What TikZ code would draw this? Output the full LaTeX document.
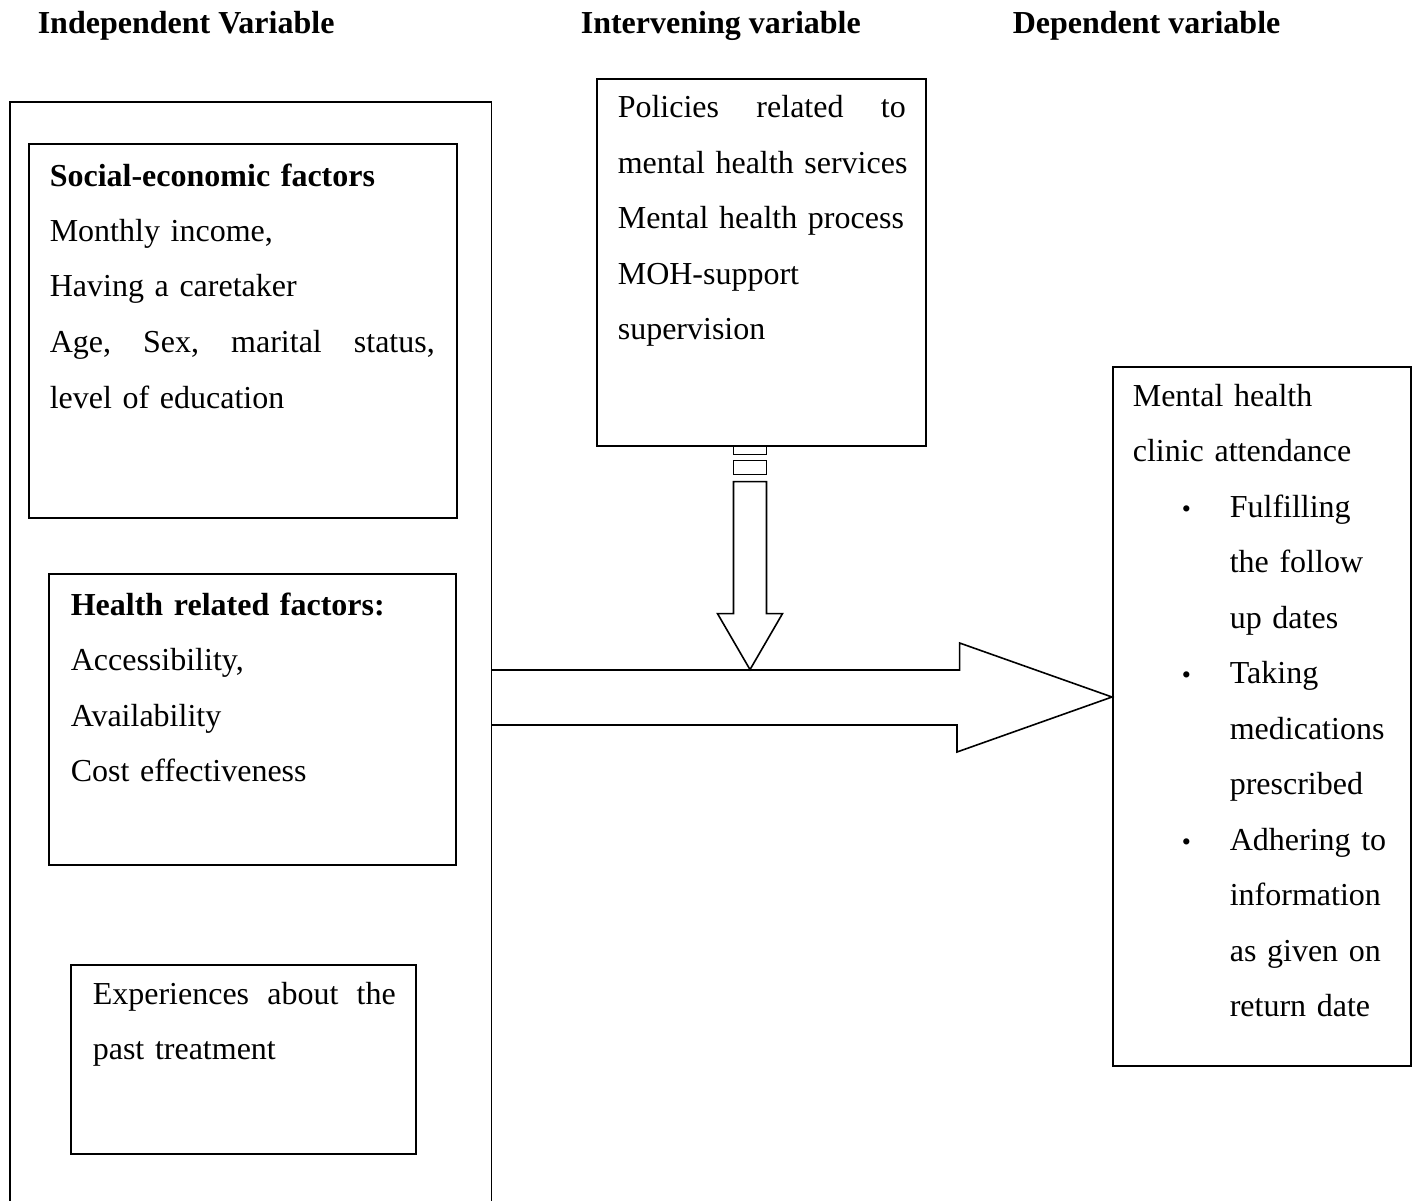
\documentclass[tikz,border=0pt]{standalone}
\usepackage{fontspec}
\setmainfont{Liberation Serif}
\usetikzlibrary{positioning,calc}

\hyphenpenalty=10000
\newcommand{\depitem}{\hspace*{49pt}\makebox[48pt][l]{\fontsize{26}{26}\selectfont\textbullet}}
\newcommand{\depmore}{\hspace*{97pt}}

\begin{document}
\begin{tikzpicture}[x=1pt,y=-1pt,line width=1.6pt,
        box/.style={draw,rectangle,inner sep=0pt,anchor=north west},
        txt/.style={inner sep=0pt,align=left,font=\fontsize{32}{55.5}\selectfont},
        title/.style={inner sep=0pt,anchor=base west,font=\fontsize{32}{36}\selectfont\bfseries}]

                \useasboundingbox (0,0) rectangle (1413,1201);

                % headings
                \node[title] (t1) at (37,34) {Independent Variable};
                \node[title] (t2) at (580,34) {Intervening variable};
                \node[title] (t3) at (1012,34) {Dependent variable};

                % independent side
                \node[inner sep=0pt,anchor=north west,minimum width=480pt,minimum height=1110pt] (indep) at (10,102) {};
                \draw (indep.south west) -- (indep.north west) -- (indep.north east) -- (indep.south east);

                \node[box,minimum width=428pt,minimum height=374pt] (soc) at (28,143) {};
                \node[txt,text width=400pt] (soctxt) [below right=43pt and 21pt of soc.north west,anchor=base west]
                    {\textbf{Social-economic factors}\\
                     Monthly income,\\
                     Having a caretaker\\
                     \makebox[385pt]{Age,\hfill Sex,\hfill marital\hfill status,}\\
                     level of education};

                \node[box,minimum width=407pt,minimum height=291pt] (health) at (48,573) {};
                \node[txt,text width=370pt] (healthtxt) [below right=42pt and 22pt of health.north west,anchor=base west]
                    {\textbf{Health related factors:}\\
                     Accessibility,\\
                     Availability\\
                     Cost effectiveness};

                \node[box,minimum width=345pt,minimum height=189pt] (exper) at (70,964) {};
                \node[txt,text width=315pt] (expertxt) [below right=40pt and 22pt of exper.north west,anchor=base west]
                    {\makebox[303pt]{Experiences\hfill about\hfill the}\\
                     past treatment};

                % intervening
                \node[box,minimum width=329pt,minimum height=367pt] (policy) at (596,78) {};
                \node[txt,text width=305pt] (policytxt) [below right=40pt and 21pt of policy.north west,anchor=base west]
                    {\makebox[288pt]{Policies\hfill related\hfill to}\\
                     mental health services\\
                     Mental health process\\
                     MOH-support\\
                     supervision};

                % dependent
                \node[box,minimum width=298pt,minimum height=699pt] (dep) at (1112,366) {};
                \node[txt,text width=275pt] (deptxt) [below right=40pt and 20pt of dep.north west,anchor=base west]
                    {Mental health\\
                     clinic attendance\\
                     \depitem Fulfilling\\
                     \depmore the follow\\
                     \depmore up dates\\
                     \depitem Taking\\
                     \depmore medications\\
                     \depmore prescribed\\
                     \depitem Adhering to\\
                     \depmore information\\
                     \depmore as given on\\
                     \depmore return date};

                % down arrow from the policy box
                \begin{scope}[shift={(policy.south west)}]
                    \draw (137.5,0) rectangle (170.5,8);
                    \draw (137.5,14) rectangle (170.5,28);
                    \draw (137.5,35) -- (137.5,167) -- (121.5,167) -- (154,223)
                          -- (186.5,167) -- (170.5,167) -- (170.5,35) -- cycle;
                \end{scope}

                % main arrow
                \coordinate (rtail) at (indep.east |- 0,697);
                \coordinate (rtip) at (dep.west |- 0,697);
                \draw ($(rtail)+(0,-27)$) -- ++(468,0) -- ++(0,-27) -- (rtip)
                      -- ++(-155,55) -- ++(0,-27) -- ($(rtail)+(0,28)$);

                ;
\end{tikzpicture}
\end{document}
